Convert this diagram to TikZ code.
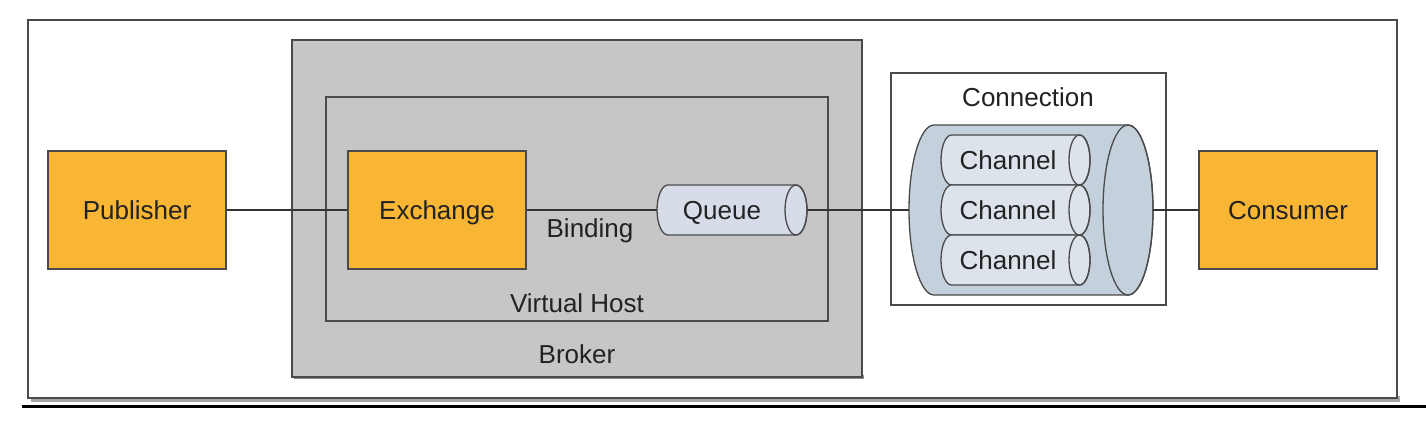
\documentclass[tikz,border=0pt]{standalone}
\usepackage{fontspec}
\setmainfont{Liberation Sans}
\definecolor{orangebox}{HTML}{F8B634}
\definecolor{brokergray}{HTML}{C6C6C6}
\definecolor{queueblue}{HTML}{D6DDE9}
\definecolor{connblue}{HTML}{C4D0DC}
\definecolor{chanblue}{HTML}{DCE3EB}
\definecolor{txt}{HTML}{222222}
\definecolor{edge}{HTML}{4A4A4A}
\newcommand{\hcyl}[6]{% xL xR yc rx ry fill
  \filldraw[fill=#6,draw=edge,line width=1.3pt]
    (#1,#3+#5) -- (#2,#3+#5) arc[start angle=90,end angle=-90,x radius=#4,y radius=#5]
    -- (#1,#3-#5) arc[start angle=270,end angle=90,x radius=#4,y radius=#5] -- cycle;
  \draw[draw=edge,line width=1.3pt] (#2,#3) ellipse[x radius=#4,y radius=#5];}
\begin{document}
\begin{tikzpicture}[x=1pt,y=1pt,
  every node/.style={font=\fontsize{26}{30}\selectfont,text=txt,text height=18.6pt,text depth=0pt},
  orangebox/.style={draw=edge,line width=1.2pt,fill=orangebox,minimum width=178pt,minimum height=118pt,inner sep=0pt},
  frame/.style={draw=edge,line width=1.3pt},
  conn/.style={draw=black!80,line width=1.4pt},
  lbl/.style={inner sep=0pt,anchor=center}]
\useasboundingbox (0,0) rectangle (1426,432);
\fill[white] (0,0) rectangle (1426,432);
% outer frame with shadow
\fill[black!35] (31,30) rectangle (1400,36);
\node[frame,fill=white,minimum width=1369pt,minimum height=378pt,inner sep=0pt] (outer) at (712.5,223) {};
\draw[black,line width=3pt] (22,26) -- (1426,26);
% broker
\fill[black!45] (294,53) rectangle (864,57);
\node[frame,fill=brokergray,minimum width=570pt,minimum height=337pt,inner sep=0pt] (broker) at (577,223.5) {};
\node[lbl] (brokerlbl) at (577,78) {Broker};
% virtual host
\node[frame,fill=brokergray,minimum width=502pt,minimum height=224pt,inner sep=0pt] (vhost) at (577,223) {};
\node[lbl] (vhostlbl) at (577,129) {Virtual Host};
% boxes
\node[orangebox] (publisher) at (137,222) {Publisher};
\node[orangebox] (exchange) at (437,222) {Exchange};
\node[orangebox] (consumer) at (1288,222) {Consumer};
% queue
\hcyl{668}{796}{222}{11}{25}{queueblue}
\node[inner sep=0pt,minimum width=150pt,minimum height=50pt] (queue) at (732,222) {};
\node[lbl] (queuelbl) at (722,222) {Queue};
\node[lbl] (binding) at (590,204) {Binding};
% connection
\node[frame,fill=white,minimum width=275pt,minimum height=232pt,inner sep=0pt] (connection) at (1028.5,243) {};
\node[lbl] (connlbl) at (1028,335) {Connection};
\hcyl{934}{1128}{222}{25}{85}{connblue}
\node[inner sep=0pt,minimum width=244pt,minimum height=170pt] (bigcyl) at (1031,222) {};
\hcyl{951.5}{1079.5}{272}{10.5}{25}{chanblue}
\hcyl{951.5}{1079.5}{222}{10.5}{25}{chanblue}
\hcyl{951.5}{1079.5}{172}{10.5}{25}{chanblue}
\node[lbl] (ch1) at (1008,272) {Channel};
\node[lbl] (ch2) at (1008,222) {Channel};
\node[lbl] (ch3) at (1008,172) {Channel};
% connectors
\draw[conn] (publisher.east) -- (exchange.west);
\draw[conn] (exchange.east) -- (queue.west);
\draw[conn] (queue.east) -- (bigcyl.west);
\draw[conn] (bigcyl.east) -- (consumer.west);
\end{tikzpicture}
\end{document}
